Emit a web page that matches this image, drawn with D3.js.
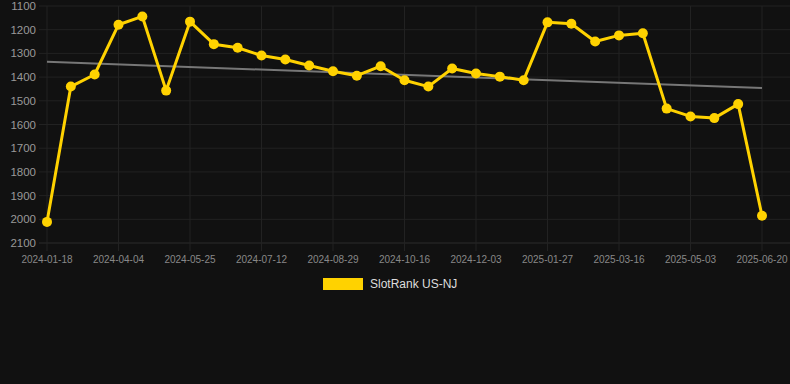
<!DOCTYPE html>
<html><head><meta charset="utf-8">
<script src="https://cdn.jsdelivr.net/npm/d3@7"></script>
<style>
html,body{margin:0;padding:0;background:#111111;}
svg{display:block;font-family:"Liberation Sans",Arial,Helvetica,sans-serif;}
</style></head>
<body>
<svg id="c" width="790" height="384"></svg>
<script>
const dates = ["2024-01-18","2024-02-13","2024-03-09","2024-04-04","2024-04-21","2024-05-08","2024-05-25","2024-06-10","2024-06-26","2024-07-12","2024-07-28","2024-08-13","2024-08-29","2024-09-14","2024-09-30","2024-10-16","2024-11-01","2024-11-17","2024-12-03","2024-12-21","2025-01-08","2025-01-27","2025-02-12","2025-02-28","2025-03-16","2025-04-01","2025-04-17","2025-05-03","2025-05-19","2025-06-04","2025-06-20"];
const ranks = [2011,1440,1389,1179,1144,1457,1166,1261,1276,1309,1326,1351,1375,1394,1354,1413,1440,1364,1385,1398,1413,1169,1175,1250,1224,1215,1533,1566,1573,1514,1985];
const trendValues = [1335,1446];
const yTicks = [1100,1200,1300,1400,1500,1600,1700,1800,1900,2000,2100];
const xTickLabels = ["2024-01-18","2024-04-04","2024-05-25","2024-07-12","2024-08-29","2024-10-16","2024-12-03","2025-01-27","2025-03-16","2025-05-03","2025-06-20"];
const seriesName = "SlotRank US-NJ";

const svg = d3.select("#c");
const mLeft = 47, mRight = 762, mTop = 6, mBottom = 243;
const x = d3.scalePoint().domain(dates).range([mLeft, mRight]);
const y = d3.scaleLinear().domain([1100, 2100]).range([mTop, mBottom]);

const grid = svg.append("g");
grid.selectAll("line.h").data(yTicks).join("line")
  .attr("x1", 39).attr("x2", 790)
  .attr("y1", d => y(d)).attr("y2", d => y(d))
  .attr("stroke", d => d === 2100 ? "#2c2c2c" : "#222").attr("stroke-width", 1);
grid.selectAll("line.v").data(xTickLabels).join("line")
  .attr("x1", d => x(d)).attr("x2", d => x(d))
  .attr("y1", mTop).attr("y2", mBottom + 8)
  .attr("stroke", "#222").attr("stroke-width", 1);

svg.append("g").selectAll("text").data(yTicks).join("text")
  .attr("x", 36).attr("y", d => y(d)).attr("dy", "0.35em")
  .attr("text-anchor", "end").attr("fill", "#999").attr("font-size", 11.5)
  .text(d => d);
svg.append("g").selectAll("text").data(xTickLabels).join("text")
  .attr("x", d => x(d)).attr("y", 263)
  .attr("text-anchor", "middle").attr("fill", "#888").attr("font-size", 10)
  .text(d => d);

// trend line
svg.append("line")
  .attr("x1", x(dates[0])).attr("x2", x(dates[dates.length-1]))
  .attr("y1", y(trendValues[0])).attr("y2", y(trendValues[1]))
  .attr("stroke", "#777").attr("stroke-width", 2);

const data = dates.map((d,i) => ({d, v: ranks[i]}));
svg.append("path").datum(data)
  .attr("fill", "none").attr("stroke", "#FFD200").attr("stroke-width", 3)
  .attr("stroke-linejoin", "round")
  .attr("d", d3.line().x(p => x(p.d)).y(p => y(p.v)));
svg.append("g").selectAll("circle").data(data).join("circle")
  .attr("cx", p => x(p.d)).attr("cy", p => y(p.v)).attr("r", 5)
  .attr("fill", "#FFD200");

// legend
svg.append("rect").attr("x", 323).attr("y", 278).attr("width", 40).attr("height", 12).attr("fill", "#FFD200");
svg.append("text").attr("x", 370).attr("y", 284).attr("dy", "0.35em")
  .attr("fill", "#ddd").attr("font-size", 12).text(seriesName);
</script>
</body></html>
